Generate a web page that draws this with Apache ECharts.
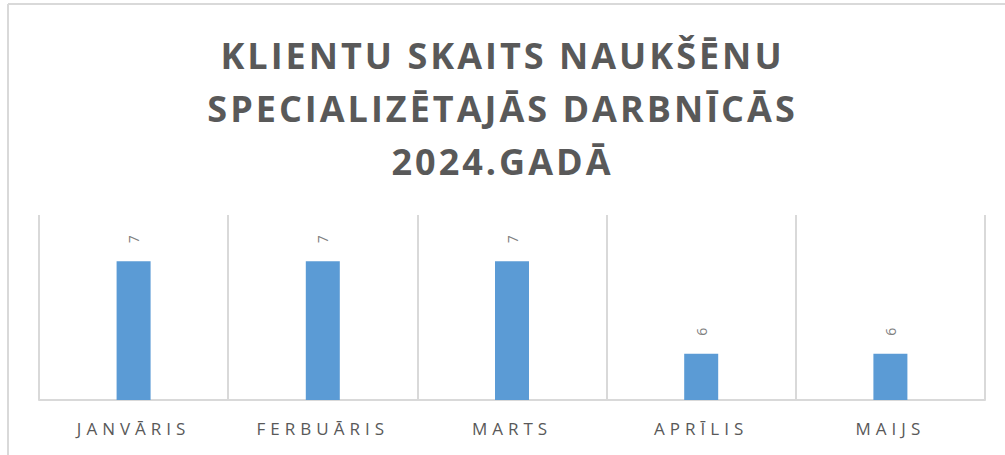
<!DOCTYPE html>
<html>
<head>
<meta charset="utf-8">
<script src="https://cdn.jsdelivr.net/npm/echarts@6/dist/echarts.min.js"></script>
<style>
    html, body { margin: 0; padding: 0; background: #fff; }
    #chart { width: 1005px; height: 455px; }
    /*letter spacing like the original office chart*/
    #chart svg text[style*="bold"] { letter-spacing: 3px; }
    #chart svg text[style*="17px"] { letter-spacing: 5px; }
</style>
</head>
<body>
<div id="chart"></div>
<script>
    const titleText = 'KLIENTU SKAITS NAUKŠĒNU\nSPECIALIZĒTAJĀS DARBNĪCĀS\n2024.GADĀ';
    const months = ['JANVĀRIS', 'FERBUĀRIS', 'MARTS', 'APRĪLIS', 'MAIJS'];
    const clients = [7, 7, 7, 6, 6];

    (function () {
        const el = document.getElementById('chart');
        const chart = echarts.init(el, null, {renderer: 'svg'});

        const option = {
            animation: false,
            backgroundColor: '#fff',
            title: {
                text: titleText,
                left: 'center',
                top: 24,
                textStyle: {
                    fontFamily: 'Open Sans',
                    fontWeight: 'bold',
                    fontSize: 36,
                    lineHeight: 53,
                    color: '#595959'
                }
            },
            graphic: [
                // frame lines at top and left, like the cropped screenshot
                {type: 'line', shape: {x1: 8, y1: 4, x2: 1005, y2: 4}, style: {stroke: '#d9d9d9', lineWidth: 2}},
                {type: 'line', shape: {x1: 8, y1: 4, x2: 8, y2: 455}, style: {stroke: '#d9d9d9', lineWidth: 2}}
            ],
            grid: {
                left: 39,
                right: 20,
                top: 215,
                bottom: 55
            },
            xAxis: {
                type: 'category',
                data: months,
                axisTick: {show: false},
                axisLine: {lineStyle: {color: '#d9d9d9', width: 2}},
                splitLine: {show: true, lineStyle: {color: '#d9d9d9', width: 2}},
                axisLabel: {
                    margin: 20,
                    fontFamily: 'Open Sans',
                    fontSize: 17,
                    color: '#595959'
                }
            },
            yAxis: {
                type: 'value',
                min: 5.5,
                max: 7.5,
                show: false
            },
            series: [{
                type: 'bar',
                data: clients,
                barWidth: 34,
                itemStyle: {color: '#5b9bd5'},
                label: {
                    show: true,
                    position: 'top',
                    distance: 22,
                    rotate: 90,
                    align: 'center',
                    verticalAlign: 'middle',
                    fontFamily: 'Open Sans',
                    fontSize: 14,
                    color: '#7f7f7f'
                }
            }]
        };

        chart.setOption(option);
    })();
</script>
</body>
</html>
